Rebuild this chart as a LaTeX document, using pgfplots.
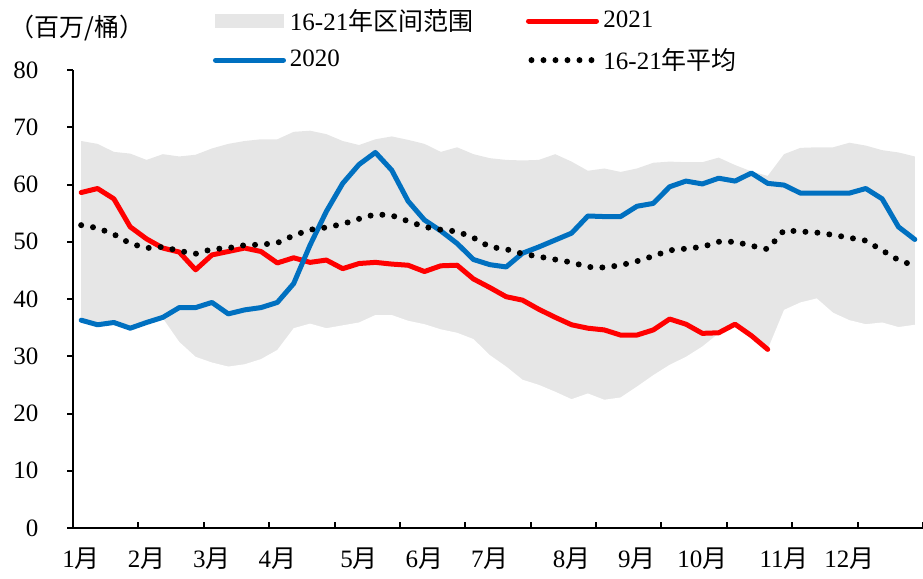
\documentclass[border=0pt]{standalone}
\usepackage{fontspec}
\setmainfont{Liberation Serif}
\newfontfamily\cjk{Noto Sans CJK SC}
\usepackage{pgfplots}
\pgfplotsset{compat=1.18}
\usepackage{pgfplotstable}

\definecolor{bandgray}{RGB}{230,230,230}
\definecolor{blueA}{RGB}{0,112,192}

\pgfplotstableread{
i up lo avg b r
0 67.6 36.3 52.9 36.3 58.6
1 67.1 35.5 52.4 35.5 59.3
2 65.7 35.9 51.3 35.9 57.5
3 65.4 34.9 49.7 34.9 52.6
4 64.3 35.9 48.9 35.9 50.5
5 65.3 36.6 49.1 36.8 48.9
6 64.9 32.5 48.4 38.5 48.2
7 65.2 29.9 47.9 38.5 45.1
8 66.3 28.9 48.7 39.4 47.7
9 67.1 28.2 48.9 37.4 48.3
10 67.6 28.6 49.4 38.1 48.9
11 67.9 29.5 49.5 38.5 48.3
12 67.9 31.1 49.8 39.4 46.3
13 69.2 34.9 51.1 42.7 47.2
14 69.4 35.7 52.1 49.4 46.4
15 68.8 34.9 52.5 55.3 46.8
16 67.6 35.4 53.1 60.2 45.3
17 66.9 35.9 54.0 63.5 46.2
18 67.9 37.2 54.8 65.6 46.4
19 68.4 37.2 54.6 62.5 46.1
20 67.8 36.2 53.6 57.1 45.9
21 67.1 35.6 52.6 53.8 44.8
22 65.7 34.7 52.1 51.9 45.8
23 66.5 34.1 51.8 49.7 45.9
24 65.3 33.0 50.7 46.9 43.5
25 64.6 30.2 49.1 46.0 42.0
26 64.3 28.2 48.7 45.6 40.4
27 64.2 25.9 47.9 48.0 39.8
28 64.3 25.0 47.4 49.1 38.2
29 65.3 23.8 46.9 50.3 36.8
30 64.0 22.5 46.4 51.5 35.5
31 62.4 23.5 45.6 54.5 34.9
32 62.8 22.4 45.5 54.4 34.6
33 62.2 22.8 45.9 54.4 33.7
34 62.8 24.7 46.6 56.2 33.7
35 63.8 26.7 47.5 56.7 34.6
36 64.0 28.5 48.5 59.6 36.5
37 63.9 29.9 48.8 60.6 35.6
38 63.9 31.7 49.1 60.1 34.0
39 64.7 34.0 50.0 61.1 34.1
40 63.4 35.6 50.0 60.6 35.6
41 62.3 33.6 49.3 62.0 33.6
42 61.5 31.2 48.7 60.2 31.2
43 65.3 38.1 52.0 59.9 nan
44 66.4 39.4 51.8 58.5 nan
45 66.5 40.1 51.6 58.5 nan
46 66.5 37.6 51.2 58.5 nan
47 67.3 36.3 50.7 58.5 nan
48 66.8 35.6 50.2 59.3 nan
49 66.0 35.9 48.5 57.5 nan
50 65.6 35.1 46.8 52.6 nan
51 64.9 35.5 45.8 50.4 nan
}\tbl

\begin{document}
\begin{tikzpicture}[font=\fontsize{12.5pt}{15pt}\selectfont]
\useasboundingbox (0,0) rectangle (461.5pt,289.5pt);
\begin{axis}[
  at={(36.5pt,25.5pt)}, anchor=south west,
  scale only axis, width=425pt, height=229pt,
  xmin=-0.5, xmax=51.5, ymin=0, ymax=80,
  axis x line*=bottom, axis y line*=left,
  axis line style={line width=1pt, black},
  axis on top,
  tick align=inside,
  major tick length=3pt,
  every tick/.style={black, line width=1pt},
  y tick style={xshift=-3pt},
  ytick={0,10,...,80},
  xtick={-0.5,3.5,...,51.5},
  xticklabels={},
  extra x ticks={0,4,8,12,17,21,25,30,34,38,43,47},
  extra x tick labels={1{\cjk 月},2{\cjk 月},3{\cjk 月},4{\cjk 月},5{\cjk 月},6{\cjk 月},7{\cjk 月},8{\cjk 月},9{\cjk 月},10{\cjk 月},11{\cjk 月},12{\cjk 月}},
  extra x tick style={major tick length=0pt, xticklabel style={yshift=-6.5pt}},
  yticklabel style={xshift=-13.8pt},
  /pgf/number format/assume math mode=true,
  legend columns=2,
  legend cell align=left,
  legend style={at={(axis description cs:0.1647,1.142)}, anchor=north west,
    draw=none, fill=none, inner sep=0pt, outer sep=0pt, row sep=3.5pt},
]
\addlegendimage{legend image code/.code={\fill[bandgray] (0pt,-3.1pt) rectangle (34pt,3.1pt);}}
\addlegendentry{\makebox[116pt][l]{16-21{\cjk 年区间范围}}}
\addlegendimage{legend image code/.code={\draw[red, line width=2.5pt, line cap=round] (0pt,0pt) -- (34pt,0pt);}}
\addlegendentry{2021}
\addlegendimage{legend image code/.code={\draw[blueA, line width=2.5pt, line cap=round] (0pt,0pt) -- (34pt,0pt);}}
\addlegendentry{2020}
\addlegendimage{legend image code/.code={\draw[black, line width=3pt, line cap=round, dash pattern=on 0pt off 6pt] (1.5pt,0pt) -- (34pt,0pt);}}
\addlegendentry{16-21{\cjk 年平均}}

\addplot[fill=bandgray, draw=none, forget plot] table[x=i, y=up]{\tbl} \closedcycle;
\addplot[fill=white, draw=none, forget plot] table[x=i, y=lo]{\tbl} \closedcycle;
\addplot[red, line width=2.5pt, line join=round, line cap=round, forget plot] table[x=i, y=r]{\tbl};
\addplot[blueA, line width=2.5pt, line join=round, line cap=round, forget plot] table[x=i, y=b]{\tbl};
\addplot[black, line width=3pt, line cap=round, dash pattern=on 0pt off 6pt, forget plot] table[x=i, y=avg]{\tbl};
\end{axis}
\node[anchor=west, inner sep=0pt] at (4.5pt,275.5pt) {\cjk （百万/桶）};
\end{tikzpicture}
\end{document}
